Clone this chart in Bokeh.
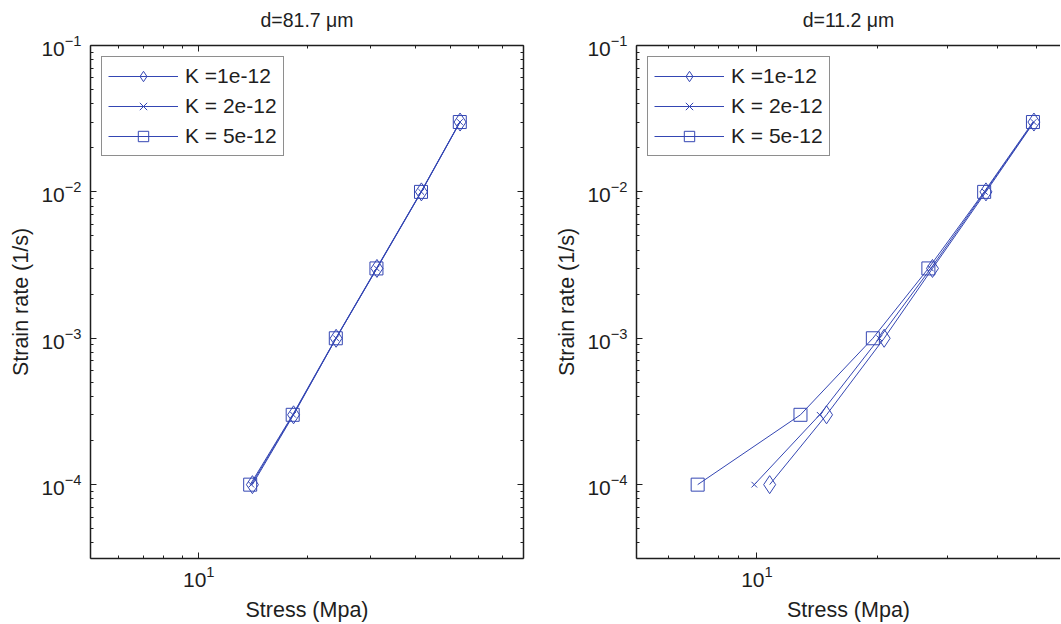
import numpy as np
from bokeh.plotting import figure
from bokeh.layouts import row
from bokeh.models import (LogAxis, FixedTicker, Legend, LegendItem,
                          CustomJSTickFormatter)
from bokeh.embed import file_html
from bokeh.resources import INLINE

# ---------------- data ----------------
strain = [1e-4, 3e-4, 1e-3, 3e-3, 1e-2, 3e-2]

# d = 81.7 um panel (stress in MPa)
left_k1 = [14.1, 18.35, 24.1, 31.3, 41.6, 53.3]
left_k2 = [14.0, 18.3, 24.1, 31.25, 41.55, 53.25]
left_k5 = [13.9, 18.25, 24.05, 31.2, 41.5, 53.2]

# d = 11.2 um panel (stress in MPa)
right_k1 = [10.76, 14.93, 20.80, 27.47, 37.37, 49.26]
right_k2 = [9.85, 14.35, 20.22, 27.20, 37.15, 49.18]
right_k5 = [7.11, 12.85, 19.49, 26.83, 36.99, 48.98]

series_labels = ["K =1e-12", "K = 2e-12", "K = 5e-12"]
titles = ["d=81.7 \u03bcm", "d=11.2 \u03bcm"]
x_label = "Stress (Mpa)"
y_label = "Strain rate (1/s)"

x_major = [10]
x_minor = [5, 6, 7, 8, 9, 20, 30, 40, 50, 60, 70, 80]
y_major = [1e-4, 1e-3, 1e-2, 1e-1]
y_minor = [m * 10.0 ** e for e in (-5, -4, -3, -2) for m in range(2, 10)]

# ---------------- style ----------------
FONT = "Liberation Sans"
BLUE = "#3446b3"
INK = "#1e1e1e"


def style_axis(ax, show_labels=True):
    ax.axis_line_color = INK
    ax.axis_line_width = 1.5
    ax.major_tick_line_color = INK
    ax.minor_tick_line_color = INK
    ax.major_tick_in = 6
    ax.major_tick_out = 0
    ax.minor_tick_in = 3
    ax.minor_tick_out = 0
    ax.major_label_text_font = FONT
    ax.major_label_text_color = INK
    ax.major_label_text_font_size = "21px"
    ax.axis_label_text_font = FONT
    ax.axis_label_text_font_size = "21.5px"
    ax.axis_label_text_font_style = "normal"
    ax.axis_label_text_color = INK
    if not show_labels:
        ax.formatter = CustomJSTickFormatter(code="return ''")
        ax.major_label_standoff = 0
        ax.major_label_text_font_size = "1px"


def make_panel(title, xs_list, x_end, width, mb_left, mb_right, right_axis):
    p = figure(width=width, height=624, x_axis_type="log", y_axis_type="log",
               x_range=(5, x_end), y_range=(3.13e-5, 0.1),
               output_backend="svg", toolbar_location=None,
               min_border_left=mb_left, min_border_right=mb_right,
               min_border_top=45, min_border_bottom=66)
    p.background_fill_color = "white"
    p.border_fill_color = "white"
    p.outline_line_color = None
    p.grid.visible = False

    p.title.text = title
    p.title.align = "center"
    p.title.text_font = FONT
    p.title.text_font_size = "19.5px"
    p.title.text_font_style = "normal"
    p.title.text_color = INK
    p.title.standoff = 10

    xt = FixedTicker(ticks=x_major, minor_ticks=x_minor)
    yt = FixedTicker(ticks=y_major, minor_ticks=y_minor)

    xa = p.xaxis[0]
    xa.ticker = xt
    xa.axis_label = x_label
    style_axis(xa)
    xa.major_label_standoff = 7
    xa.axis_label_standoff = 8

    ya = p.yaxis[0]
    ya.ticker = yt
    ya.axis_label = y_label
    style_axis(ya)
    ya.major_label_standoff = 9
    ya.axis_label_standoff = 5

    top = LogAxis(ticker=FixedTicker(ticks=x_major, minor_ticks=x_minor))
    style_axis(top, show_labels=False)
    # blank spacer label lifts the title a little above the frame
    top.axis_label = "\u00a0"
    top.axis_label_text_font_size = "7px"
    top.axis_label_standoff = 0
    p.add_layout(top, "above")
    if right_axis:
        rt = LogAxis(ticker=FixedTicker(ticks=y_major, minor_ticks=y_minor))
        style_axis(rt, show_labels=False)
        p.add_layout(rt, "right")

    markers = [("diamond", 18), ("x", 8), ("square", 13)]
    items = []
    for xs, lab, (mk, sz) in zip(xs_list, series_labels, markers):
        lr = p.line(xs, strain, line_color=BLUE, line_width=1)
        sr = p.scatter(xs, strain, marker=mk, size=sz,
                       line_color=BLUE, line_width=1, fill_color=None)
        items.append(LegendItem(label=lab, renderers=[lr, sr]))

    leg = Legend(items=items, location="top_left")
    leg.margin = 11
    leg.padding = 6
    leg.spacing = 4
    leg.glyph_width = 70
    leg.glyph_height = 26
    leg.label_height = 26
    leg.label_standoff = 7
    leg.label_text_font = FONT
    leg.label_text_font_size = "21px"
    leg.label_text_color = INK
    leg.border_line_color = INK
    leg.border_line_width = 1.2
    leg.background_fill_color = "white"
    leg.background_fill_alpha = 1
    p.add_layout(leg)
    return p


p1 = make_panel(titles[0], [left_k1, left_k2, left_k5], 80, 535, 90, 12, True)
p2 = make_panel(titles[1], [right_k1, right_k2, right_k5], 57.4, 525, 101, 0, False)

layout = row(p1, p2)
open("out.html", "w").write(file_html(layout, INLINE))
